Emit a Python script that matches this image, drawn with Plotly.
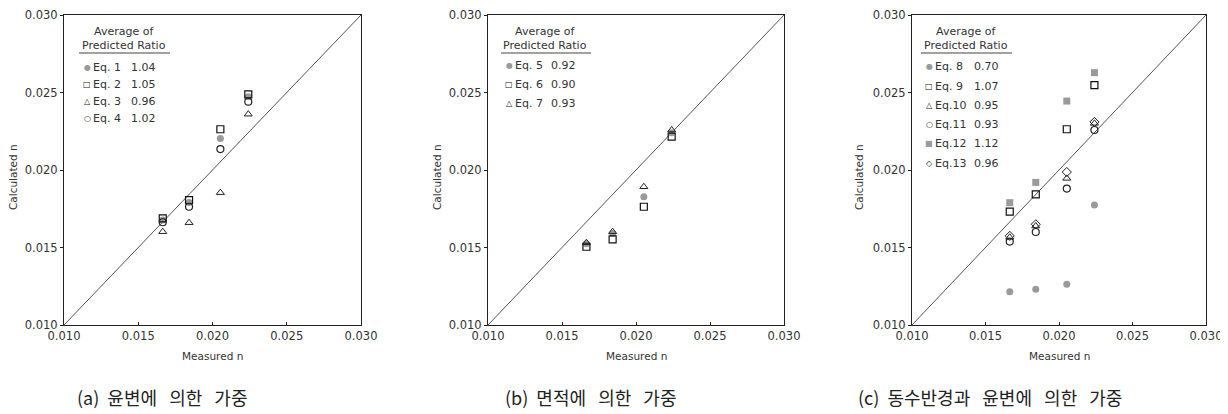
import plotly.graph_objects as go

# ---------------- data ----------------
measured_n = [0.01665, 0.01842, 0.02053, 0.02241]

# panel (a) weighting by wetted perimeter
eq1 = [0.01677, 0.01790, 0.02204, 0.02473]
eq2 = [0.01688, 0.01806, 0.02263, 0.02488]
eq3 = [0.01602, 0.01660, 0.01854, 0.02360]
eq4 = [0.01663, 0.01763, 0.02135, 0.02441]

# panel (b) weighting by area
eq5 = [0.01525, 0.01590, 0.01828, 0.02240]
eq6 = [0.01505, 0.01553, 0.01763, 0.02215]
eq7 = [0.01531, 0.01602, 0.01892, 0.02258]

# panel (c) weighting by hydraulic radius and wetted perimeter
eq8 = [0.01215, 0.01230, 0.01263, 0.01774]
eq9 = [0.01731, 0.01843, 0.02263, 0.02548]
eq10 = [0.01566, 0.01639, 0.01946, 0.02301]
eq11 = [0.01538, 0.01600, 0.01880, 0.02258]
eq12 = [0.01789, 0.01920, 0.02445, 0.02628]
eq13 = [0.01575, 0.01650, 0.01987, 0.02310]

eq_labels_a = ["Eq. 1", "Eq. 2", "Eq. 3", "Eq. 4"]
ratios_a = ["1.04", "1.05", "0.96", "1.02"]
eq_labels_b = ["Eq. 5", "Eq. 6", "Eq. 7"]
ratios_b = ["0.92", "0.90", "0.93"]
eq_labels_c = ["Eq. 8", "Eq. 9", "Eq.10", "Eq.11", "Eq.12", "Eq.13"]
ratios_c = ["0.70", "1.07", "0.95", "0.93", "1.12", "0.96"]

captions = ["(a)  윤변에   의한   가중", "(b)  면적에   의한   가중",
            "(c)  동수반경과   윤변에   의한   가중"]
tick_vals = [0.010, 0.015, 0.020, 0.025, 0.030]
tick_text = ["0.010", "0.015", "0.020", "0.025", "0.030"]

# ---------------- styles ----------------
W, H = 1228, 414
OFF = 8                     # default body margin of the page shifts the figure
GRAY = "#9a9a9a"
styles = {
    "fcircle": dict(symbol="circle", size=7, color=GRAY, line=dict(width=0)),
    "osquare": dict(symbol="square-open", size=7, color="#111", line=dict(width=1.2)),
    "otri": dict(symbol="triangle-up-open", size=7, color="#222", line=dict(width=1)),
    "ocircle": dict(symbol="circle-open", size=7, color="#222", line=dict(width=1.2)),
    "fsquare": dict(symbol="square", size=7, color=GRAY, line=dict(width=0)),
    "odiamond": dict(symbol="diamond-open", size=7, color="#222", line=dict(width=1)),
}
leg_sym = {
    "fcircle": ("●", GRAY), "osquare": ("□", "#111"), "otri": ("△", "#222"),
    "ocircle": ("○", "#222"), "fsquare": ("■", GRAY), "odiamond": ("◇", "#222"),
}

panels = [
    dict(series=[eq1, eq2, eq3, eq4], kinds=["fcircle", "osquare", "otri", "ocircle"],
         labels=eq_labels_a, ratios=ratios_a, px=(64, 361), sym_x=87, val_x=129, row0=68, dy=16.7,
         head_c=124, ul=(79, 170), ytitle_x=13, cap_x=75),
    dict(series=[eq5, eq6, eq7], kinds=["fcircle", "osquare", "otri"],
         labels=eq_labels_b, ratios=ratios_b, px=(488, 784), sym_x=509, val_x=549, row0=66, dy=18.5,
         head_c=545, ul=(501, 591), ytitle_x=437, cap_x=503),
    dict(series=[eq8, eq9, eq10, eq11, eq12, eq13],
         kinds=["fcircle", "osquare", "otri", "ocircle", "fsquare", "odiamond"],
         labels=eq_labels_c, ratios=ratios_c, px=(912, 1206), sym_x=929, val_x=972, row0=67, dy=19.2,
         head_c=966, ul=(921, 1012), ytitle_x=859, cap_x=856),
]

y_top, y_bot = 15, 325
fig = go.Figure()
annotations = []
shapes = []
FONT = "DejaVu Sans"
TXT = "#333333"


def fx(p):
    return (p - OFF) / W


def fy(p):
    return 1 - (p - OFF) / H


def ann(text, x, y, size=11, color=TXT, xanchor="center", family=FONT, **kw):
    annotations.append(dict(text=text, x=fx(x), y=fy(y), xref="paper", yref="paper",
                            xanchor=xanchor, yanchor="middle", showarrow=False,
                            font=dict(family=family, size=size, color=color), **kw))


for i, p in enumerate(panels):
    n = i + 1
    xa = "x" if n == 1 else f"x{n}"
    ya = "y" if n == 1 else f"y{n}"
    # 1:1 line
    fig.add_trace(go.Scatter(x=[tick_vals[0], tick_vals[-1]], y=[tick_vals[0], tick_vals[-1]],
                             mode="lines", line=dict(color="#555", width=1),
                             xaxis=xa, yaxis=ya, showlegend=False, hoverinfo="skip"))
    for s, k in zip(p["series"], p["kinds"]):
        fig.add_trace(go.Scatter(x=measured_n, y=s, mode="markers", marker=styles[k],
                                 xaxis=xa, yaxis=ya, showlegend=False))
    common = dict(range=[0.010, 0.030], tickvals=tick_vals, ticktext=tick_text,
                  showgrid=False, zeroline=False, showline=True, linecolor="#222",
                  linewidth=1, mirror=True, ticklen=3, tickcolor="#222", automargin=False,
                  tickfont=dict(family=FONT, size=11.5, color=TXT))
    ax = dict(domain=[fx(p["px"][0]), fx(p["px"][1])], ticks="inside", anchor=ya, **common)
    ay = dict(domain=[fy(y_bot), fy(y_top)], ticks="outside", anchor=xa, **common)
    fig.update_layout(**{("xaxis" if n == 1 else f"xaxis{n}"): ax,
                         ("yaxis" if n == 1 else f"yaxis{n}"): ay})

    cx = (p["px"][0] + p["px"][1]) / 2
    ann("Measured n", cx, 356, size=10.5)
    ann("Calculated n", p["ytitle_x"], 177, size=10.5, textangle=-90)
    ann(captions[i], p["cap_x"], 397, size=18, color="#222", xanchor="left",
        family="Noto Sans CJK KR")
    # legend header
    ann("Average of", p["head_c"], 31)
    ann("Predicted Ratio", p["head_c"], 45.5)
    shapes.append(dict(type="line", xref="paper", yref="paper", x0=fx(p["ul"][0]), x1=fx(p["ul"][1]),
                       y0=fy(53), y1=fy(53), line=dict(color="#444", width=1)))
    # legend rows
    for j, (lab, r, k) in enumerate(zip(p["labels"], p["ratios"], p["kinds"])):
        yy = p["row0"] + j * p["dy"]
        sym, col = leg_sym[k]
        ann(sym, p["sym_x"], yy, size=8, color=col)
        ann(lab, p["sym_x"] + 4, yy, xanchor="left")
        ann(r, p["val_x"], yy, xanchor="left")

fig.update_layout(width=W, height=H, margin=dict(l=0, r=0, t=0, b=0, autoexpand=False),
                  paper_bgcolor="white", plot_bgcolor="white",
                  annotations=annotations, shapes=shapes, showlegend=False)
fig.write_html("out.html")
